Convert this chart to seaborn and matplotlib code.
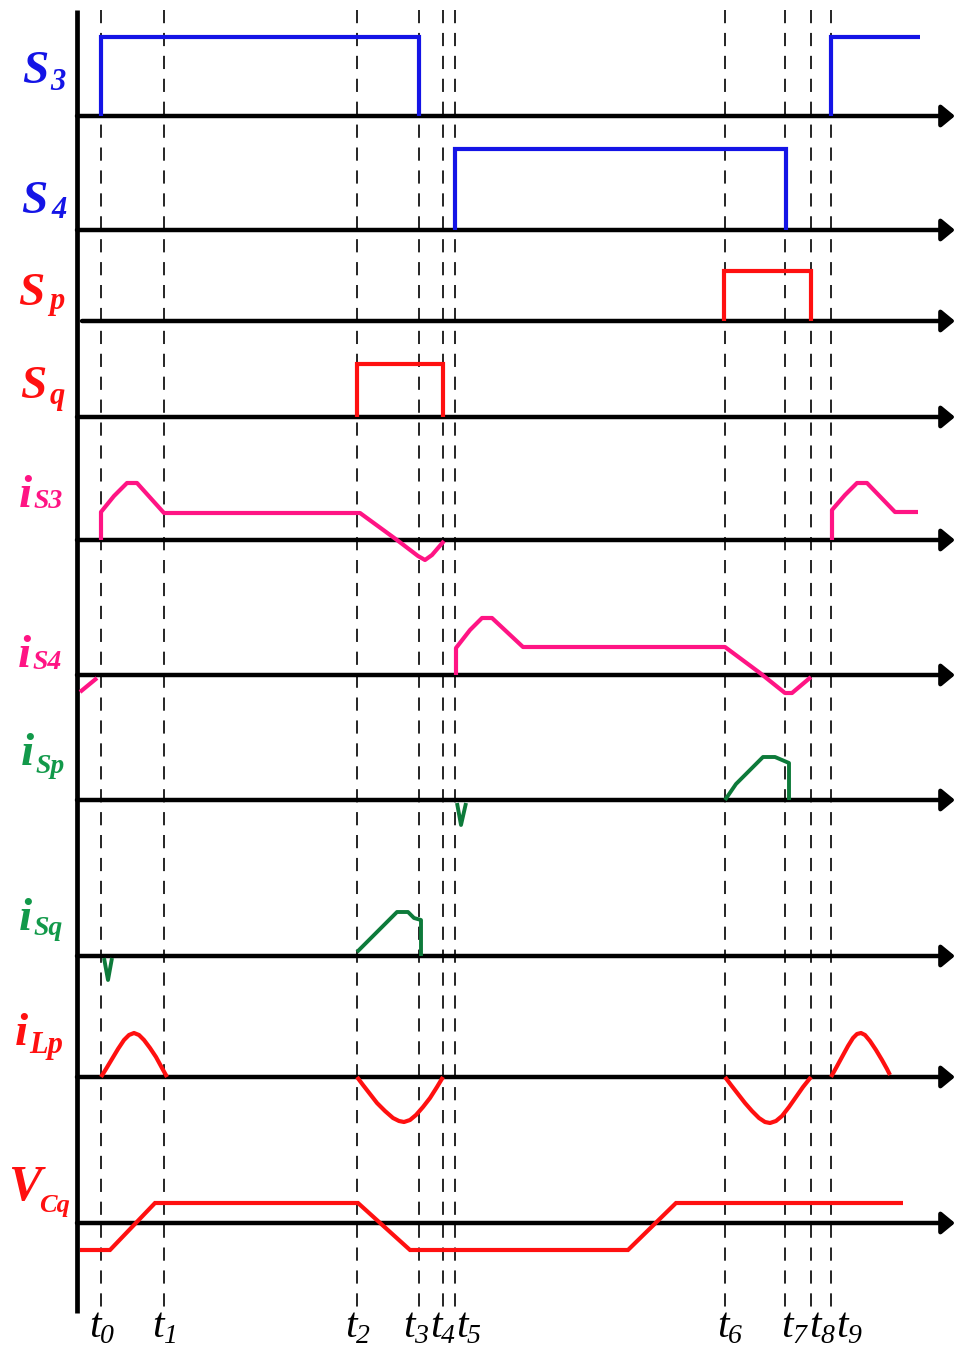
import matplotlib
matplotlib.use("Agg")
import matplotlib.pyplot as plt
import pandas as pd
import seaborn as sns

# ---- switching instants (arbitrary time units along the horizontal axis) ----
t_marks = [101, 164, 357, 419, 443, 455, 725, 785, 811, 831]
t_subs = ["0", "1", "2", "3", "4", "5", "6", "7", "8", "9"]

# ---- gate signals: segments of (time, level) ----
s3_t = [[101, 101, 419, 419], [831, 831, 920]]
s3_v = [[0, 79, 79, 0], [0, 79, 79]]
s4_t = [[455, 455, 786, 786]]
s4_v = [[0, 81, 81, 0]]
sp_t = [[724, 724, 811, 811]]
sp_v = [[0, 50, 50, 0]]
sq_t = [[357, 357, 443, 443]]
sq_v = [[0, 53, 53, 0]]

# ---- switch currents ----
is3_t = [[101, 101, 114, 127, 137, 164, 360, 397, 418, 425, 432, 444],
         [832, 832, 845, 857, 867, 895, 918]]
is3_v = [[0, 28, 44, 57, 57, 27, 27, 0, -16, -20, -15, -1],
         [0, 30, 45, 57, 57, 28, 28]]
is4_t = [[80, 97],
         [456, 456, 470, 482, 492, 523, 725, 760, 785, 792, 811]]
is4_v = [[-17, -3],
         [0, 27, 45, 57, 57, 28, 28, 2, -18, -18, -2]]
isp_t = [[725, 736, 763, 775, 789, 789], [457, 461, 466]]
isp_v = [[0, 16, 43, 43, 37, 0], [-3, -25, -3]]
isq_t = [[357, 397, 408, 414, 421, 421], [104, 108, 112]]
isq_v = [[4, 44, 44, 38, 36, 0], [-2, -24, -2]]

# ---- resonant inductor current ----
ilp_t = [[101, 106, 112, 118, 124, 129, 134, 139, 144, 150, 156, 162, 167],
         [357, 363, 370, 377, 385, 393, 399, 404, 410, 416, 423, 430, 437, 443],
         [725, 731, 738, 745, 752, 759, 765, 770, 776, 782, 789, 796, 803, 811],
         [831, 836, 842, 848, 853, 857, 861, 865, 870, 876, 882, 887, 890]]
ilp_v = [[0, 8, 18, 28, 37, 42, 44, 42, 37, 29, 20, 9, 0],
         [0, -8, -17, -26, -34, -41, -44, -45, -43, -38, -30, -21, -10, 0],
         [0, -8, -17, -26, -34, -41, -45, -46, -44, -39, -30, -20, -10, 0],
         [0, 9, 20, 31, 39, 43, 44, 42, 36, 27, 17, 8, 2]]

# ---- clamp capacitor voltage ----
vcq_t = [[80, 110, 155, 358, 410, 628, 676, 903]]
vcq_v = [[-27, -27, 20, 20, -27, -27, 20, 20]]

BLUE = "#1414e6"
RED = "#ff1010"
PINK = "#ff1484"
GREEN = "#0d7a3a"
GREEN_TXT = "#12994a"

# name, times, values, colour, line width, corner style
channels = [
    ("S3", s3_t, s3_v, BLUE, 3.0, "miter"),
    ("S4", s4_t, s4_v, BLUE, 3.0, "miter"),
    ("Sp", sp_t, sp_v, RED, 3.0, "miter"),
    ("Sq", sq_t, sq_v, RED, 3.0, "miter"),
    ("iS3", is3_t, is3_v, PINK, 3.0, "round"),
    ("iS4", is4_t, is4_v, PINK, 3.0, "round"),
    ("iSp", isp_t, isp_v, GREEN, 2.8, "round"),
    ("iSq", isq_t, isq_v, GREEN, 2.8, "round"),
    ("iLp", ilp_t, ilp_v, RED, 3.0, "round"),
    ("VCq", vcq_t, vcq_v, RED, 3.0, "miter"),
]

# vertical placement of each trace's zero line on the sheet
baselines = {"S3": 116, "S4": 230, "Sp": 321, "Sq": 417, "iS3": 540,
             "iS4": 675, "iSp": 800, "iSq": 956, "iLp": 1077, "VCq": 1223}
axis_start = {"Sp": 82}

sns.set_theme(style="white")
plt.rcParams["lines.scale_dashes"] = False
SERIF = ["Liberation Serif", "DejaVu Serif"]

W, H = 955, 1347
fig = plt.figure(figsize=(W / 100, H / 100), dpi=100)
ax = fig.add_axes([0, 0, 1, 1])

# dashed markers at each switching instant
ax.vlines(t_marks, 10, 1312, colors="black", linewidth=1.2,
          linestyles=[(0, (9.5, 7))], zorder=1)

# main vertical axis
ax.plot([77, 77], [10, 1313], color="black", lw=3.4, solid_capstyle="butt", zorder=4)

# horizontal time axes with arrow heads
for name, base in baselines.items():
    ax.annotate("", xy=(955, base), xytext=(axis_start.get(name, 77), base),
                arrowprops=dict(arrowstyle="-|>,head_length=0.4,head_width=0.33",
                                color="black", lw=3.2, shrinkA=0, shrinkB=0,
                                mutation_scale=20),
                zorder=4)

# waveforms
for name, ts, vs, color, lw, join in channels:
    rows = []
    for k, (tt, vv) in enumerate(zip(ts, vs)):
        for t, v in zip(tt, vv):
            rows.append({"seg": k, "t": t, "y": baselines[name] - v})
    df = pd.DataFrame(rows)
    sns.lineplot(data=df, x="t", y="y", units="seg", estimator=None, sort=False,
                 color=color, lw=lw, ax=ax, legend=False, zorder=5,
                 solid_joinstyle=join, solid_capstyle="butt")
ax.set_xlim(0, W)
ax.set_ylim(H, 0)
ax.axis("off")


def label(x, y, main, sub, color, s_main, s_sub, xs, ys):
    ax.text(x, y, main, color=color, fontsize=s_main, family=SERIF,
            style="italic", weight="bold", ha="left", va="baseline", zorder=6)
    ax.text(xs, ys, sub, color=color, fontsize=s_sub, family=SERIF,
            style="italic", weight="bold", ha="left", va="baseline", zorder=6)


label(22, 83, "S", "3", BLUE, 34, 22, 50, 90)
label(21, 213, "S", "4", BLUE, 34, 22, 51, 218)
label(18, 305, "S", "p", RED, 34, 22, 49, 309)
label(20, 398, "S", "q", RED, 34, 22, 50, 404)
label(19, 507, "i", "S3", PINK, 34, 20, 33, 508)
label(18, 667, "i", "S4", PINK, 34, 20, 32, 669)
label(21, 765, "i", "Sp", GREEN_TXT, 34, 20, 35, 773)
label(19, 930, "i", "Sq", GREEN_TXT, 34, 20, 33, 935)
label(15, 1045, "i", "Lp", RED, 34, 22, 29, 1053)
label(8, 1200, "V", "Cq", RED, 36, 19, 39, 1212)

# time instant labels
t_label_x = [89, 152, 345, 403, 430, 456, 717, 781, 809, 836]
for xl, s in zip(t_label_x, t_subs):
    ax.text(xl, 1337, "t", fontsize=30, family=SERIF, style="italic",
            color="black", ha="left", va="baseline")
    ax.text(xl + 11, 1343, s, fontsize=20, family=SERIF, style="italic",
            color="black", ha="left", va="baseline")

fig.savefig("out.png", dpi=100)
